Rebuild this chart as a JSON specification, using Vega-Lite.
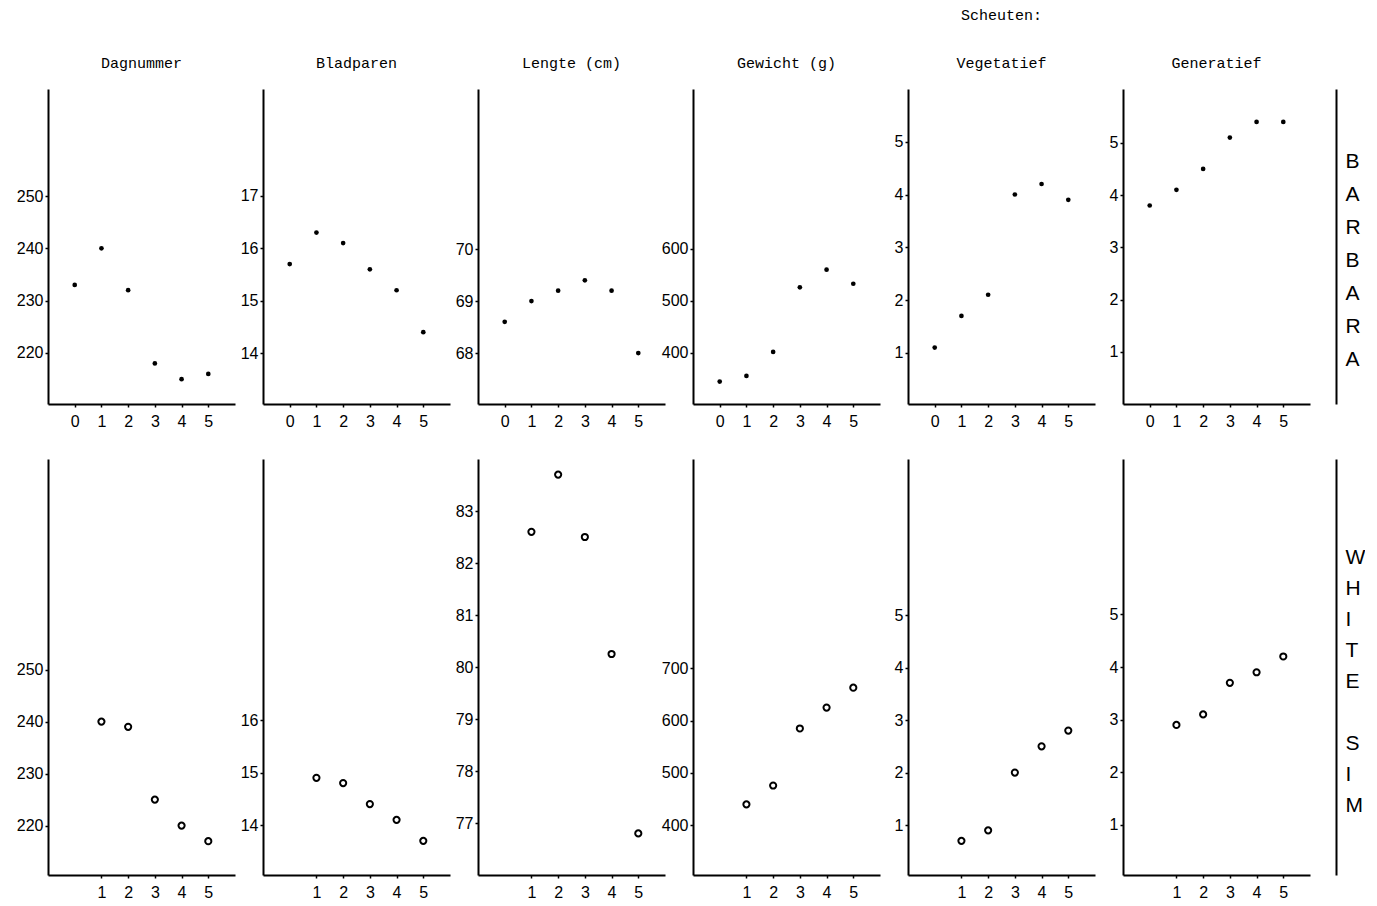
{
  "$schema": "https://vega.github.io/schema/vega-lite/v6.json",
  "padding": {"left": 16, "top": 8, "right": 0, "bottom": 0},
  "background": "white",
  "data": {"values": [
    {"ras": "Barbara", "kenmerk": "Dagnummer", "scheut": 0, "waarde": 233},
    {"ras": "Barbara", "kenmerk": "Dagnummer", "scheut": 1, "waarde": 240},
    {"ras": "Barbara", "kenmerk": "Dagnummer", "scheut": 2, "waarde": 232},
    {"ras": "Barbara", "kenmerk": "Dagnummer", "scheut": 3, "waarde": 218},
    {"ras": "Barbara", "kenmerk": "Dagnummer", "scheut": 4, "waarde": 215},
    {"ras": "Barbara", "kenmerk": "Dagnummer", "scheut": 5, "waarde": 216},
    {"ras": "Barbara", "kenmerk": "Bladparen", "scheut": 0, "waarde": 15.7},
    {"ras": "Barbara", "kenmerk": "Bladparen", "scheut": 1, "waarde": 16.3},
    {"ras": "Barbara", "kenmerk": "Bladparen", "scheut": 2, "waarde": 16.1},
    {"ras": "Barbara", "kenmerk": "Bladparen", "scheut": 3, "waarde": 15.6},
    {"ras": "Barbara", "kenmerk": "Bladparen", "scheut": 4, "waarde": 15.2},
    {"ras": "Barbara", "kenmerk": "Bladparen", "scheut": 5, "waarde": 14.4},
    {"ras": "Barbara", "kenmerk": "Lengte", "scheut": 0, "waarde": 68.6},
    {"ras": "Barbara", "kenmerk": "Lengte", "scheut": 1, "waarde": 69.0},
    {"ras": "Barbara", "kenmerk": "Lengte", "scheut": 2, "waarde": 69.2},
    {"ras": "Barbara", "kenmerk": "Lengte", "scheut": 3, "waarde": 69.4},
    {"ras": "Barbara", "kenmerk": "Lengte", "scheut": 4, "waarde": 69.2},
    {"ras": "Barbara", "kenmerk": "Lengte", "scheut": 5, "waarde": 68.0},
    {"ras": "Barbara", "kenmerk": "Gewicht", "scheut": 0, "waarde": 345},
    {"ras": "Barbara", "kenmerk": "Gewicht", "scheut": 1, "waarde": 356},
    {"ras": "Barbara", "kenmerk": "Gewicht", "scheut": 2, "waarde": 402},
    {"ras": "Barbara", "kenmerk": "Gewicht", "scheut": 3, "waarde": 526},
    {"ras": "Barbara", "kenmerk": "Gewicht", "scheut": 4, "waarde": 560},
    {"ras": "Barbara", "kenmerk": "Gewicht", "scheut": 5, "waarde": 533},
    {"ras": "Barbara", "kenmerk": "Vegetatief", "scheut": 0, "waarde": 1.1},
    {"ras": "Barbara", "kenmerk": "Vegetatief", "scheut": 1, "waarde": 1.7},
    {"ras": "Barbara", "kenmerk": "Vegetatief", "scheut": 2, "waarde": 2.1},
    {"ras": "Barbara", "kenmerk": "Vegetatief", "scheut": 3, "waarde": 4.0},
    {"ras": "Barbara", "kenmerk": "Vegetatief", "scheut": 4, "waarde": 4.2},
    {"ras": "Barbara", "kenmerk": "Vegetatief", "scheut": 5, "waarde": 3.9},
    {"ras": "Barbara", "kenmerk": "Generatief", "scheut": 0, "waarde": 3.8},
    {"ras": "Barbara", "kenmerk": "Generatief", "scheut": 1, "waarde": 4.1},
    {"ras": "Barbara", "kenmerk": "Generatief", "scheut": 2, "waarde": 4.5},
    {"ras": "Barbara", "kenmerk": "Generatief", "scheut": 3, "waarde": 5.1},
    {"ras": "Barbara", "kenmerk": "Generatief", "scheut": 4, "waarde": 5.4},
    {"ras": "Barbara", "kenmerk": "Generatief", "scheut": 5, "waarde": 5.4},
    {"ras": "White Sim", "kenmerk": "Dagnummer", "scheut": 1, "waarde": 240},
    {"ras": "White Sim", "kenmerk": "Dagnummer", "scheut": 2, "waarde": 239},
    {"ras": "White Sim", "kenmerk": "Dagnummer", "scheut": 3, "waarde": 225},
    {"ras": "White Sim", "kenmerk": "Dagnummer", "scheut": 4, "waarde": 220},
    {"ras": "White Sim", "kenmerk": "Dagnummer", "scheut": 5, "waarde": 217},
    {"ras": "White Sim", "kenmerk": "Bladparen", "scheut": 1, "waarde": 14.9},
    {"ras": "White Sim", "kenmerk": "Bladparen", "scheut": 2, "waarde": 14.8},
    {"ras": "White Sim", "kenmerk": "Bladparen", "scheut": 3, "waarde": 14.4},
    {"ras": "White Sim", "kenmerk": "Bladparen", "scheut": 4, "waarde": 14.1},
    {"ras": "White Sim", "kenmerk": "Bladparen", "scheut": 5, "waarde": 13.7},
    {"ras": "White Sim", "kenmerk": "Lengte", "scheut": 1, "waarde": 82.6},
    {"ras": "White Sim", "kenmerk": "Lengte", "scheut": 2, "waarde": 83.7},
    {"ras": "White Sim", "kenmerk": "Lengte", "scheut": 3, "waarde": 82.5},
    {"ras": "White Sim", "kenmerk": "Lengte", "scheut": 4, "waarde": 80.25},
    {"ras": "White Sim", "kenmerk": "Lengte", "scheut": 5, "waarde": 76.8},
    {"ras": "White Sim", "kenmerk": "Gewicht", "scheut": 1, "waarde": 440},
    {"ras": "White Sim", "kenmerk": "Gewicht", "scheut": 2, "waarde": 476},
    {"ras": "White Sim", "kenmerk": "Gewicht", "scheut": 3, "waarde": 585},
    {"ras": "White Sim", "kenmerk": "Gewicht", "scheut": 4, "waarde": 625},
    {"ras": "White Sim", "kenmerk": "Gewicht", "scheut": 5, "waarde": 663},
    {"ras": "White Sim", "kenmerk": "Vegetatief", "scheut": 1, "waarde": 0.7},
    {"ras": "White Sim", "kenmerk": "Vegetatief", "scheut": 2, "waarde": 0.9},
    {"ras": "White Sim", "kenmerk": "Vegetatief", "scheut": 3, "waarde": 2.0},
    {"ras": "White Sim", "kenmerk": "Vegetatief", "scheut": 4, "waarde": 2.5},
    {"ras": "White Sim", "kenmerk": "Vegetatief", "scheut": 5, "waarde": 2.8},
    {"ras": "White Sim", "kenmerk": "Generatief", "scheut": 1, "waarde": 2.9},
    {"ras": "White Sim", "kenmerk": "Generatief", "scheut": 2, "waarde": 3.1},
    {"ras": "White Sim", "kenmerk": "Generatief", "scheut": 3, "waarde": 3.7},
    {"ras": "White Sim", "kenmerk": "Generatief", "scheut": 4, "waarde": 3.9},
    {"ras": "White Sim", "kenmerk": "Generatief", "scheut": 5, "waarde": 4.2}
  ]},
  "columns": 6,
  "spacing": {"row": 55, "column": 28},
  "bounds": "flush",
  "align": "each",
  "concat": [
    {
      "width": 187, "height": 315,
      "title": "Dagnummer",
      "transform": [{"filter": "datum.ras == 'Barbara' && datum.kenmerk == 'Dagnummer'"}],
      "mark": {"type": "point", "filled": true, "size": 22, "color": "black", "opacity": 1},
      "encoding": {
        "x": {"field": "scheut", "type": "quantitative", "scale": {"domain": [-1, 6], "nice": false, "zero": false}, "axis": {"values": [0, 1, 2, 3, 4, 5], "title": null}},
        "y": {"field": "waarde", "type": "quantitative", "scale": {"domain": [210.25, 270.45], "nice": false, "zero": false}, "axis": {"values": [220, 230, 240, 250], "title": null}}
      }
    },
    {
      "width": 187, "height": 315,
      "title": "Bladparen",
      "transform": [{"filter": "datum.ras == 'Barbara' && datum.kenmerk == 'Bladparen'"}],
      "mark": {"type": "point", "filled": true, "size": 22, "color": "black", "opacity": 1},
      "encoding": {
        "x": {"field": "scheut", "type": "quantitative", "scale": {"domain": [-1, 6], "nice": false, "zero": false}, "axis": {"values": [0, 1, 2, 3, 4, 5], "title": null}},
        "y": {"field": "waarde", "type": "quantitative", "scale": {"domain": [13.03, 19.04], "nice": false, "zero": false}, "axis": {"values": [14, 15, 16, 17], "title": null}}
      }
    },
    {
      "width": 187, "height": 315,
      "title": "Lengte (cm)",
      "transform": [{"filter": "datum.ras == 'Barbara' && datum.kenmerk == 'Lengte'"}],
      "mark": {"type": "point", "filled": true, "size": 22, "color": "black", "opacity": 1},
      "encoding": {
        "x": {"field": "scheut", "type": "quantitative", "scale": {"domain": [-1, 6], "nice": false, "zero": false}, "axis": {"values": [0, 1, 2, 3, 4, 5], "title": null}},
        "y": {"field": "waarde", "type": "quantitative", "scale": {"domain": [67.02, 73.08], "nice": false, "zero": false}, "axis": {"values": [68, 69, 70], "title": null}}
      }
    },
    {
      "width": 187, "height": 315,
      "title": "Gewicht (g)",
      "transform": [{"filter": "datum.ras == 'Barbara' && datum.kenmerk == 'Gewicht'"}],
      "mark": {"type": "point", "filled": true, "size": 22, "color": "black", "opacity": 1},
      "encoding": {
        "x": {"field": "scheut", "type": "quantitative", "scale": {"domain": [-1, 6], "nice": false, "zero": false}, "axis": {"values": [0, 1, 2, 3, 4, 5], "title": null}},
        "y": {"field": "waarde", "type": "quantitative", "scale": {"domain": [302, 907], "nice": false, "zero": false}, "axis": {"values": [400, 500, 600], "title": null}}
      }
    },
    {
      "width": 187, "height": 315,
      "title": {"text": "Scheuten:", "subtitle": "Vegetatief", "subtitleFont": "Liberation Mono", "subtitleFontSize": 15, "subtitleColor": "black", "subtitlePadding": 33},
      "transform": [{"filter": "datum.ras == 'Barbara' && datum.kenmerk == 'Vegetatief'"}],
      "mark": {"type": "point", "filled": true, "size": 22, "color": "black", "opacity": 1},
      "encoding": {
        "x": {"field": "scheut", "type": "quantitative", "scale": {"domain": [-1, 6], "nice": false, "zero": false}, "axis": {"values": [0, 1, 2, 3, 4, 5], "title": null}},
        "y": {"field": "waarde", "type": "quantitative", "scale": {"domain": [0.03, 6.0], "nice": false, "zero": false}, "axis": {"values": [1, 2, 3, 4, 5], "title": null}}
      }
    },
    {
      "width": 187, "height": 315,
      "title": "Generatief",
      "transform": [{"filter": "datum.ras == 'Barbara' && datum.kenmerk == 'Generatief'"}],
      "layer": [
        {
          "mark": {"type": "point", "filled": true, "size": 22, "color": "black", "opacity": 1},
          "encoding": {
            "x": {"field": "scheut", "type": "quantitative", "scale": {"domain": [-1, 6], "nice": false, "zero": false}, "axis": {"values": [0, 1, 2, 3, 4, 5], "title": null}},
            "y": {"field": "waarde", "type": "quantitative", "scale": {"domain": [0, 6.03], "nice": false, "zero": false}, "axis": {"values": [1, 2, 3, 4, 5], "title": null}}
          }
        },
        {
          "mark": {"type": "point", "opacity": 0},
          "encoding": {
            "x": {"field": "scheut", "type": "quantitative", "scale": {"domain": [-1, 6], "nice": false, "zero": false}, "axis": {"values": [0, 1, 2, 3, 4, 5], "title": null}},
            "y": {"field": "waarde", "type": "quantitative", "scale": {"domain": [0, 6.03], "nice": false, "zero": false}, "axis": {"orient": "right", "offset": 26, "labels": false, "ticks": false, "title": ["B", "A", "R", "B", "A", "R", "A"], "titleAngle": 0, "titleAlign": "left", "titleBaseline": "middle", "titleX": 9, "titleY": 72, "titleFont": "Liberation Sans", "titleFontSize": 21, "titleFontWeight": "normal", "titleLineHeight": 33, "titleColor": "black"}}
          }
        }
      ],
      "resolve": {"axis": {"y": "independent"}}
    },
    {
      "width": 187, "height": 416,
      "transform": [{"filter": "datum.ras == 'White Sim' && datum.kenmerk == 'Dagnummer'"}],
      "mark": {"type": "point", "filled": false, "size": 38, "strokeWidth": 2, "color": "black", "opacity": 1},
      "encoding": {
        "x": {"field": "scheut", "type": "quantitative", "scale": {"domain": [-1, 6], "nice": false, "zero": false}, "axis": {"values": [1, 2, 3, 4, 5], "title": null}},
        "y": {"field": "waarde", "type": "quantitative", "scale": {"domain": [210.5, 290.5], "nice": false, "zero": false}, "axis": {"values": [220, 230, 240, 250], "title": null}}
      }
    },
    {
      "width": 187, "height": 416,
      "transform": [{"filter": "datum.ras == 'White Sim' && datum.kenmerk == 'Bladparen'"}],
      "mark": {"type": "point", "filled": false, "size": 38, "strokeWidth": 2, "color": "black", "opacity": 1},
      "encoding": {
        "x": {"field": "scheut", "type": "quantitative", "scale": {"domain": [-1, 6], "nice": false, "zero": false}, "axis": {"values": [1, 2, 3, 4, 5], "title": null}},
        "y": {"field": "waarde", "type": "quantitative", "scale": {"domain": [13.05, 20.97], "nice": false, "zero": false}, "axis": {"values": [14, 15, 16], "title": null}}
      }
    },
    {
      "width": 187, "height": 416,
      "transform": [{"filter": "datum.ras == 'White Sim' && datum.kenmerk == 'Lengte'"}],
      "mark": {"type": "point", "filled": false, "size": 38, "strokeWidth": 2, "color": "black", "opacity": 1},
      "encoding": {
        "x": {"field": "scheut", "type": "quantitative", "scale": {"domain": [-1, 6], "nice": false, "zero": false}, "axis": {"values": [1, 2, 3, 4, 5], "title": null}},
        "y": {"field": "waarde", "type": "quantitative", "scale": {"domain": [76, 84], "nice": false, "zero": false}, "axis": {"values": [77, 78, 79, 80, 81, 82, 83], "title": null}}
      }
    },
    {
      "width": 187, "height": 416,
      "transform": [{"filter": "datum.ras == 'White Sim' && datum.kenmerk == 'Gewicht'"}],
      "mark": {"type": "point", "filled": false, "size": 38, "strokeWidth": 2, "color": "black", "opacity": 1},
      "encoding": {
        "x": {"field": "scheut", "type": "quantitative", "scale": {"domain": [-1, 6], "nice": false, "zero": false}, "axis": {"values": [1, 2, 3, 4, 5], "title": null}},
        "y": {"field": "waarde", "type": "quantitative", "scale": {"domain": [305, 1100], "nice": false, "zero": false}, "axis": {"values": [400, 500, 600, 700], "title": null}}
      }
    },
    {
      "width": 187, "height": 416,
      "transform": [{"filter": "datum.ras == 'White Sim' && datum.kenmerk == 'Vegetatief'"}],
      "mark": {"type": "point", "filled": false, "size": 38, "strokeWidth": 2, "color": "black", "opacity": 1},
      "encoding": {
        "x": {"field": "scheut", "type": "quantitative", "scale": {"domain": [-1, 6], "nice": false, "zero": false}, "axis": {"values": [1, 2, 3, 4, 5], "title": null}},
        "y": {"field": "waarde", "type": "quantitative", "scale": {"domain": [0.05, 7.97], "nice": false, "zero": false}, "axis": {"values": [1, 2, 3, 4, 5], "title": null}}
      }
    },
    {
      "width": 187, "height": 416,
      "transform": [{"filter": "datum.ras == 'White Sim' && datum.kenmerk == 'Generatief'"}],
      "layer": [
        {
          "mark": {"type": "point", "filled": false, "size": 38, "strokeWidth": 2, "color": "black", "opacity": 1},
          "encoding": {
            "x": {"field": "scheut", "type": "quantitative", "scale": {"domain": [-1, 6], "nice": false, "zero": false}, "axis": {"values": [1, 2, 3, 4, 5], "title": null}},
            "y": {"field": "waarde", "type": "quantitative", "scale": {"domain": [0.05, 7.95], "nice": false, "zero": false}, "axis": {"values": [1, 2, 3, 4, 5], "title": null}}
          }
        },
        {
          "mark": {"type": "point", "opacity": 0},
          "encoding": {
            "x": {"field": "scheut", "type": "quantitative", "scale": {"domain": [-1, 6], "nice": false, "zero": false}, "axis": {"values": [1, 2, 3, 4, 5], "title": null}},
            "y": {"field": "waarde", "type": "quantitative", "scale": {"domain": [0.05, 7.95], "nice": false, "zero": false}, "axis": {"orient": "right", "offset": 26, "labels": false, "ticks": false, "title": ["W", "H", "I", "T", "E", "\u200b", "S", "I", "M"], "titleAngle": 0, "titleAlign": "left", "titleBaseline": "middle", "titleX": 9, "titleY": 98, "titleFont": "Liberation Sans", "titleFontSize": 21, "titleFontWeight": "normal", "titleLineHeight": 31, "titleColor": "black"}}
          }
        }
      ],
      "resolve": {"axis": {"y": "independent"}}
    }
  ],
  "config": {
    "view": {"stroke": null},
    "axis": {
      "grid": false,
      "domainColor": "black",
      "domainWidth": 2,
      "tickColor": "black",
      "tickSize": 3,
      "tickWidth": 1.5,
      "labelColor": "black",
      "labelFont": "Liberation Sans",
      "labelFontSize": 16
    },
    "axisY": {"labelPadding": 2},
    "axisX": {"labelPadding": 6},
    "title": {"font": "Liberation Mono", "fontSize": 15, "fontWeight": "normal", "color": "black", "offset": 18}
  }
}
